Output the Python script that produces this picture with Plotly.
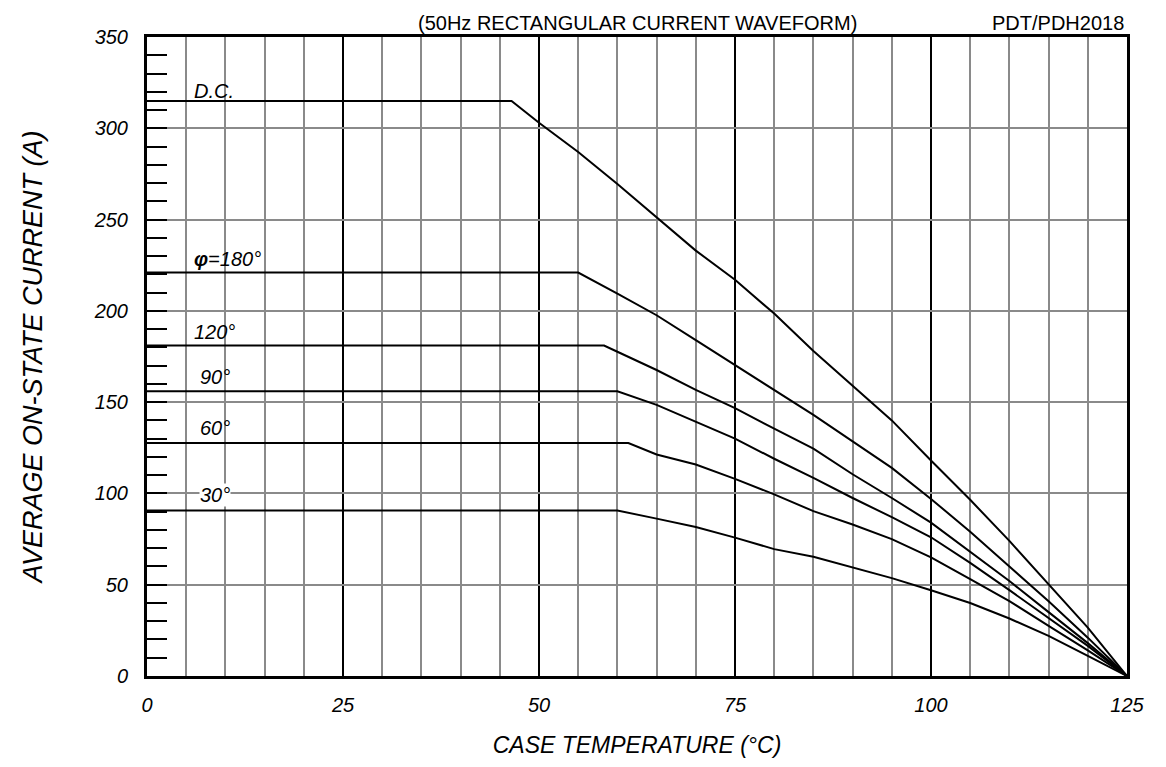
import plotly.graph_objects as go

# Case temperature (°C) and average on-state current (A) for each conduction angle
dc_x = [0, 46.5, 50, 55, 60, 65, 70, 75, 80, 85, 90, 95, 100, 105, 110, 115, 120, 125]
dc_y = [315, 315, 303, 287, 269.5, 251, 233, 217, 198.5, 178, 159, 140, 118, 96.5, 74, 50, 26.5, 0]

a180_x = [0, 55, 60, 65, 70, 75, 80, 85, 90, 95, 100, 105, 110, 115, 120, 125]
a180_y = [221, 221, 209.4, 197.6, 184, 170.3, 156.7, 143, 128.5, 114, 97, 79, 60, 41, 21, 0]

a120_x = [0, 58.3, 60, 65, 70, 75, 80, 85, 90, 95, 100, 105, 110, 115, 120, 125]
a120_y = [181, 181, 177.6, 167.6, 156.7, 146.7, 135.5, 124.5, 110.5, 97.5, 84, 68, 52, 35, 18, 0]

a90_x = [0, 60, 65, 70, 75, 80, 85, 90, 95, 100, 105, 110, 115, 120, 125]
a90_y = [156, 156, 148.5, 139.4, 130, 119, 108.5, 97.5, 87, 76, 62, 47, 32, 16.5, 0]

a60_x = [0, 61.4, 65, 70, 75, 80, 85, 90, 95, 100, 105, 110, 115, 120, 125]
a60_y = [127.6, 127.6, 121.3, 115.8, 108, 99.5, 90.3, 83, 75, 65, 53, 41, 27.5, 14, 0]

a30_x = [0, 60, 65, 70, 75, 80, 85, 90, 95, 100, 105, 110, 115, 120, 125]
a30_y = [90.7, 90.7, 86.2, 81.6, 75.8, 69.5, 65.3, 59.4, 53.6, 47, 40, 31.5, 22, 11, 0]

series = [
    ("D.C.", dc_x, dc_y),
    ("180°", a180_x, a180_y),
    ("120°", a120_x, a120_y),
    ("90°", a90_x, a90_y),
    ("60°", a60_x, a60_y),
    ("30°", a30_x, a30_y),
]

# curve labels: text, x, y
label_text = ["D.C.", "<b>φ</b>=180°", "120°", "90°", "60°", "30°"]
label_x = [5.9, 5.9, 5.9, 6.6, 6.6, 6.6]
label_y = [320.5, 228.5, 188.5, 164, 136, 99]
label_bg = ["rgba(0,0,0,0)"] * 5 + ["white"]

FONT = "Liberation Sans, Arial, sans-serif"

fig = go.Figure()
for name, xs, ys in series:
    fig.add_trace(go.Scatter(x=xs, y=ys, mode="lines", name=name,
                             line=dict(color="black", width=2), showlegend=False))

for t, lx, ly, bg in zip(label_text, label_x, label_y, label_bg):
    fig.add_annotation(x=lx, y=ly, text=t, showarrow=False, xanchor="left", yanchor="middle",
                       bgcolor=bg, borderpad=0,
                       font=dict(family=FONT, size=20, color="black", style="italic"))

fig.add_annotation(x=0.501, y=1.0, xref="paper", yref="paper", yshift=1,
                   text="(50Hz RECTANGULAR CURRENT WAVEFORM)", showarrow=False,
                   xanchor="center", yanchor="bottom",
                   font=dict(family=FONT, size=20, color="black"))
fig.add_annotation(x=0.999, y=1.0, xref="paper", yref="paper", yshift=1,
                   text="PDT/PDH2018", showarrow=False,
                   xanchor="right", yanchor="bottom",
                   font=dict(family=FONT, size=20, color="black"))

fig.update_xaxes(
    range=[0, 125], dtick=25, tick0=0,
    showgrid=True, gridcolor="black", gridwidth=2,
    minor=dict(dtick=5, showgrid=True, gridcolor="#8a8a8a", gridwidth=1.5),
    showline=True, linecolor="black", linewidth=3, mirror=True,
    ticks="", zeroline=False, ticklabelstandoff=9,
    tickfont=dict(family=FONT, size=20, color="black", style="italic"),
    title=dict(text="CASE TEMPERATURE (°C)", standoff=22,
               font=dict(family=FONT, size=23, color="black", style="italic")),
)
fig.update_yaxes(
    range=[0, 350], dtick=50, tick0=0,
    showgrid=True, gridcolor="#8a8a8a", gridwidth=1.5,
    ticks="inside", ticklen=20, tickwidth=2, tickcolor="black",
    minor=dict(dtick=10, ticks="inside", ticklen=20, tickwidth=2, tickcolor="black", showgrid=False),
    showline=True, linecolor="black", linewidth=3, mirror=True,
    zeroline=False, ticklabelstandoff=12,
    tickfont=dict(family=FONT, size=20, color="black", style="italic"),
    title=dict(text="AVERAGE ON-STATE CURRENT (A)", standoff=44,
               font=dict(family=FONT, size=27, color="black", style="italic")),
)

fig.update_layout(
    width=1166, height=767,
    margin=dict(l=139, r=47, t=29, b=99),
    plot_bgcolor="white", paper_bgcolor="white",
    font=dict(family=FONT, color="black"),
)

fig.write_html("out.html")
